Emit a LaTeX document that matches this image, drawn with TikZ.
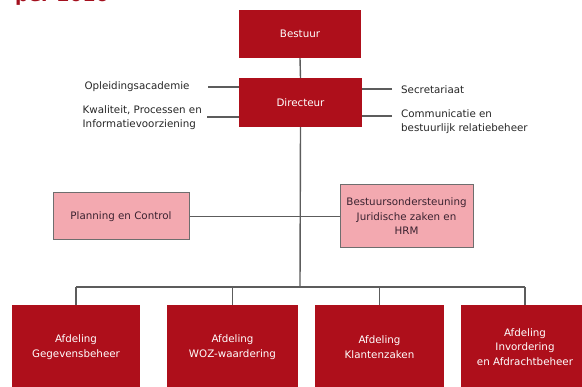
\documentclass[tikz,border=0pt]{standalone}
\usepackage{fontspec}
\setmainfont{DejaVu Sans}
\definecolor{boxred}{HTML}{AE0F1B}
\definecolor{boxpink}{HTML}{F3A9B0}
\definecolor{pinkborder}{HTML}{6E6E6E}
\definecolor{linegray}{HTML}{5C5C5C}
\definecolor{titlered}{HTML}{A3101E}
\definecolor{pinktext}{HTML}{3A2230}
\begin{document}
\begin{tikzpicture}[x=1pt,y=-1pt,
  font=\fontsize{10.3}{14.5}\selectfont,
  redbox/.style={draw=none,fill=boxred,text=white,align=center,inner sep=0pt},
  pinkbox/.style={draw=pinkborder,line width=1pt,fill=boxpink,text=pinktext,align=center,inner sep=0pt},
  lbl/.style={text=black!85,inner sep=0pt},
  conn/.style={draw=linegray,line width=1.4pt}]
\path[use as bounding box] (0,0) rectangle (582,387);
\clip (0,0) rectangle (582,387);
% cut-off title
\node[anchor=base west,inner sep=0pt,text=titlered,font=\fontsize{18.6}{20}\selectfont\bfseries] (title) at (15,1.5) {per 2016};
% top boxes
\node[redbox,minimum width=122pt,minimum height=48pt] (bestuur) at (300,34) {Bestuur};
\node[redbox,minimum width=123pt,minimum height=49pt] (directeur) at (300.5,102.5) {Directeur};
% staff labels
\node[lbl] (opl) at (137,87) {Opleidingsacademie};
\node[lbl,align=left,anchor=east] (kwal) at (202,117.5) {Kwaliteit, Processen en\\Informatievoorziening};
\node[lbl,anchor=west] (secr) at (401,89.5) {Secretariaat};
\node[lbl,align=left,anchor=west] (comm) at (401,121.5) {Communicatie en\\bestuurlijk relatiebeheer};
\coordinate (oplend) at (208,87);
\coordinate (kwalend) at (207,117);
\coordinate (secrend) at (392,89);
\coordinate (commend) at (392,116);
% staff boxes
\node[pinkbox,minimum width=136pt,minimum height=47pt] (planning) at (121,216.5) {Planning en Control};
\node[pinkbox,minimum width=133pt,minimum height=63pt] (bos) at (406.5,216.5) {Bestuursondersteuning\\Juridische zaken en\\HRM};
% departments
\node[redbox,minimum width=128pt,minimum height=84pt] (geg) at (76,347) {Afdeling\\Gegevensbeheer};
\node[redbox,minimum width=131pt,minimum height=84pt] (woz) at (232.5,347) {Afdeling\\WOZ-waardering};
\node[redbox,minimum width=129pt,minimum height=84pt] (klant) at (379.5,347) {Afdeling\\Klantenzaken};
\node[redbox,minimum width=128pt,minimum height=84pt] (inv) at (525,347) {Afdeling\\Invordering\\en Afdrachtbeheer};
\coordinate (bus) at (300,287);
% connectors
\draw[conn] (bestuur.south) -- (directeur.north);
\draw[conn] (directeur.south) -- (bus);
\draw[conn] (oplend) -- (directeur.west |- oplend);
\draw[conn] (kwalend) -- (directeur.west |- kwalend);
\draw[conn] (secrend) -- (directeur.east |- secrend);
\draw[conn] (commend) -- (directeur.east |- commend);
\draw[conn] (planning.east) -- (bos.west |- planning.east);
\draw[conn] (geg.north |- bus) -- (inv.north |- bus);
\draw[conn] (geg.north) -- (geg.north |- bus);
\draw[conn] (woz.north) -- (woz.north |- bus);
\draw[conn] (klant.north) -- (klant.north |- bus);
\draw[conn] (inv.north) -- (inv.north |- bus);
\end{tikzpicture}
\end{document}
